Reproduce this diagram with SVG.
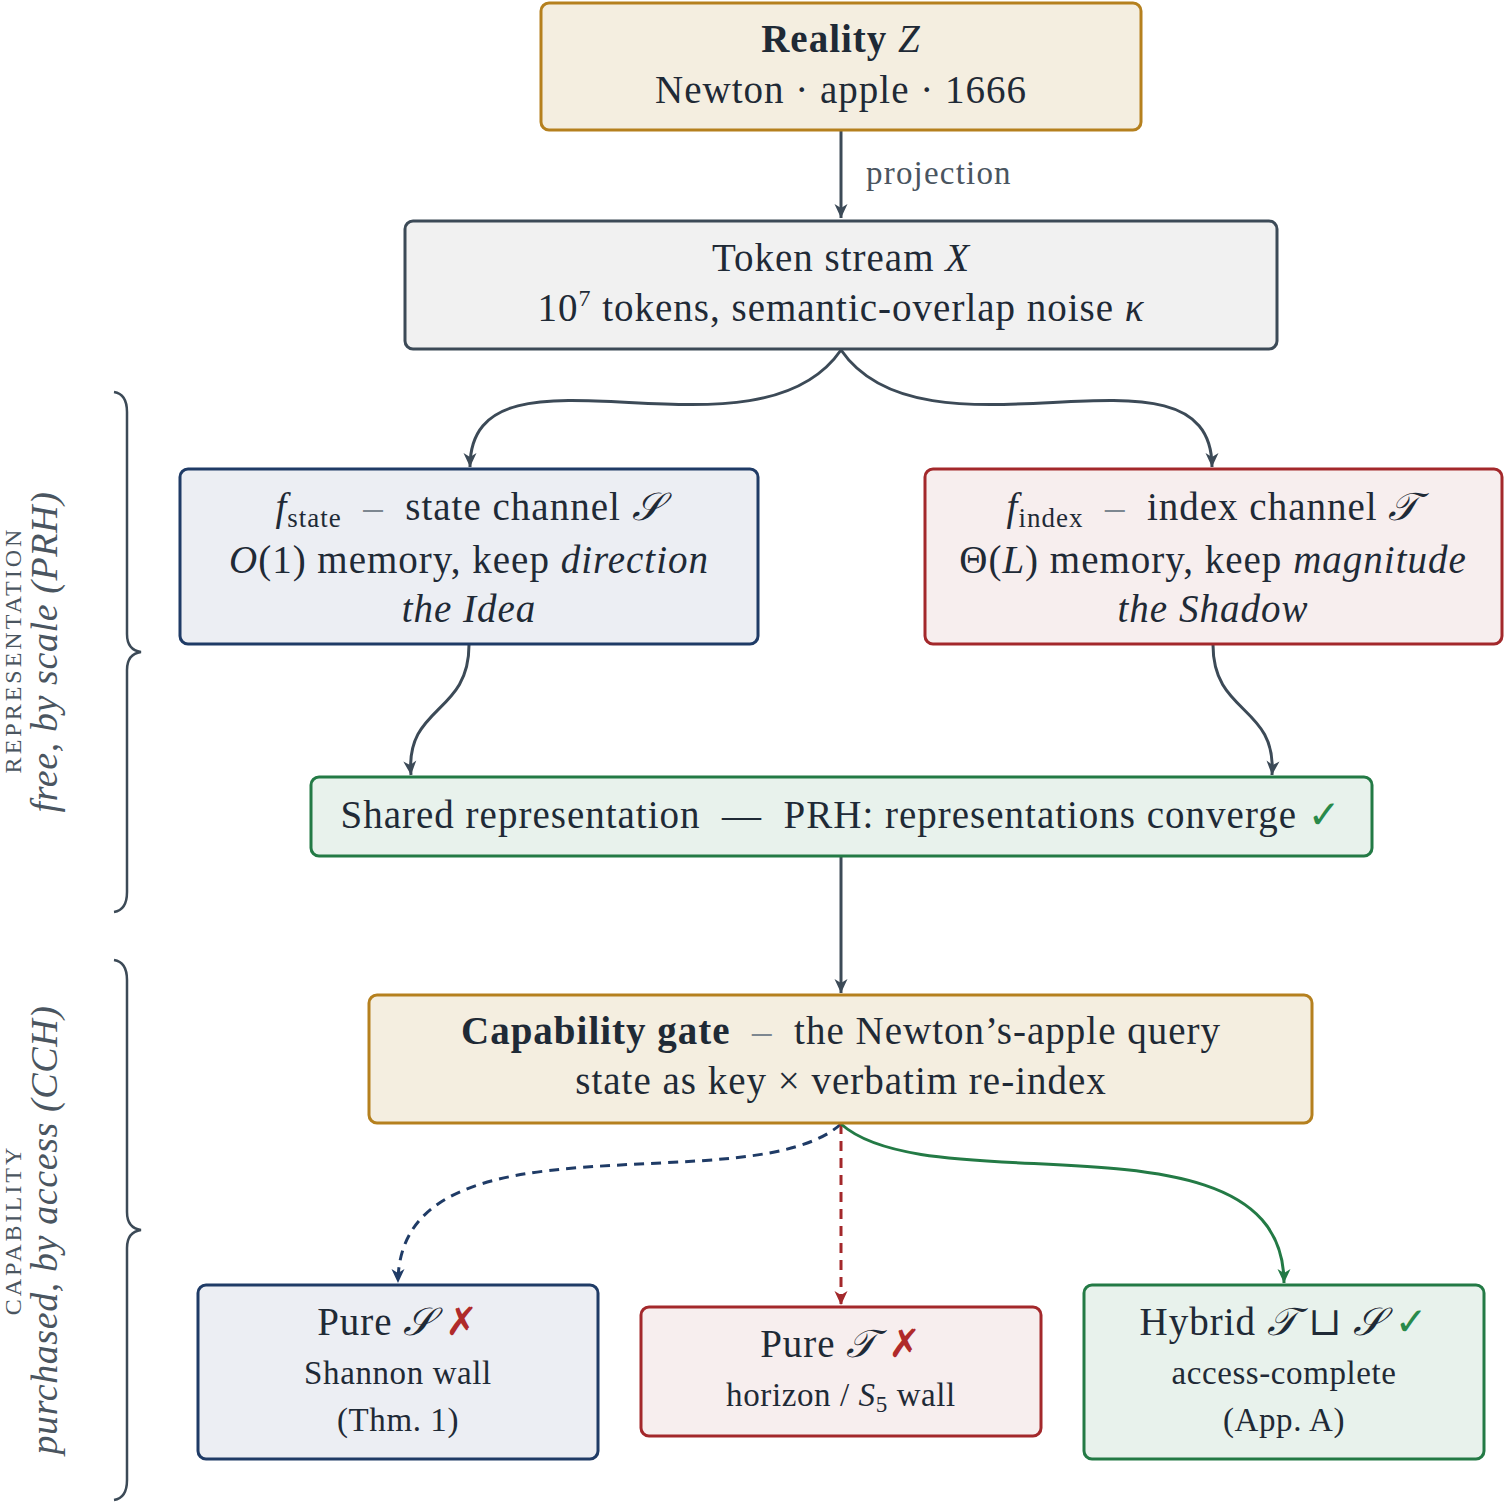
<svg xmlns="http://www.w3.org/2000/svg" width="1504" height="1504" viewBox="0 0 1504 1504">
<defs>
<style>
.t{font-family:"Liberation Serif","DejaVu Serif",serif;fill:#1f2a36;font-size:39px;letter-spacing:1px;text-anchor:middle;white-space:pre}
.s2{font-size:33px;letter-spacing:0.6px}
.b{font-weight:bold}
.i{font-style:italic}
.m{font-family:"DejaVu Serif","DejaVu Sans",serif;font-style:italic}
.dsh{fill:#7d8790}
.x{fill:#b02a2a;font-family:"DejaVu Sans",sans-serif}
.ok{fill:#2a8a4a;font-family:"DejaVu Sans",sans-serif}
.box{stroke-width:3}
.gold{fill:#f4eee0;stroke:#b5801e}
.gray{fill:#f1f1f1;stroke:#3c4a57}
.navy{fill:#eceef3;stroke:#1f3b66}
.red{fill:#f7eeee;stroke:#a3282b}
.green{fill:#e8f2ec;stroke:#237a45}
.c{fill:none;stroke-width:3}
.side{font-family:"Liberation Serif","DejaVu Serif",serif;fill:#4a5560;text-anchor:middle}
</style>
<marker id="aS" viewBox="-15 -8 16 16" refX="0" refY="0" markerWidth="16" markerHeight="16" orient="auto" markerUnits="userSpaceOnUse"><path d="M0,0 L-14,-6.5 L-10,0 L-14,6.5 Z" fill="#3c4a57"/></marker>
<marker id="aN" viewBox="-15 -8 16 16" refX="0" refY="0" markerWidth="16" markerHeight="16" orient="auto" markerUnits="userSpaceOnUse"><path d="M0,0 L-14,-6.5 L-10,0 L-14,6.5 Z" fill="#1f3b66"/></marker>
<marker id="aR" viewBox="-15 -8 16 16" refX="0" refY="0" markerWidth="16" markerHeight="16" orient="auto" markerUnits="userSpaceOnUse"><path d="M0,0 L-14,-6.5 L-10,0 L-14,6.5 Z" fill="#a3282b"/></marker>
<marker id="aG" viewBox="-15 -8 16 16" refX="0" refY="0" markerWidth="16" markerHeight="16" orient="auto" markerUnits="userSpaceOnUse"><path d="M0,0 L-14,-6.5 L-10,0 L-14,6.5 Z" fill="#237a45"/></marker>
</defs>
<rect width="1504" height="1504" fill="#ffffff"/>

<g id="connectors">
<path class="c" stroke="#3c4a57" d="M841,131 L841,218" marker-end="url(#aS)"/>
<text class="side" x="866" y="184" font-size="33" letter-spacing="1.2" style="text-anchor:start">projection</text>
<path class="c" stroke="#3c4a57" d="M841,350 C755,475 470,325 470,467" marker-end="url(#aS)"/>
<path class="c" stroke="#3c4a57" d="M841,350 C927,475 1212,325 1212,467" marker-end="url(#aS)"/>
<path class="c" stroke="#3c4a57" d="M469,645 C469,715 405,705 411,775" marker-end="url(#aS)"/>
<path class="c" stroke="#3c4a57" d="M1213,645 C1213,715 1277,705 1272,775" marker-end="url(#aS)"/>
<path class="c" stroke="#3c4a57" d="M841,857 L841,993" marker-end="url(#aS)"/>
<path class="c" stroke="#1f3b66" stroke-dasharray="10 7" d="M841,1124 C750,1205 398,1105 398,1283" marker-end="url(#aN)"/>
<path class="c" stroke="#a3282b" stroke-dasharray="10 7" d="M841,1124 L841,1305" marker-end="url(#aR)"/>
<path class="c" stroke="#237a45" d="M841,1124 C932,1205 1284,1105 1284,1283" marker-end="url(#aG)"/>
</g>

<g id="brace-representation">
<path fill="none" stroke="#3c4a57" stroke-width="2.5" d="M114,392 Q127,394 127,412 L127,634 Q127,650 141,652 Q127,654 127,670 L127,892 Q127,910 114,912"/>
<text class="side" transform="translate(21,650) rotate(-90)" font-size="24" letter-spacing="3">REPRESENTATION</text>
<text class="side i" transform="translate(57,652) rotate(-90)" font-size="38" letter-spacing="0.6">free, by scale (PRH)</text>
</g>
<g id="brace-capability">
<path fill="none" stroke="#3c4a57" stroke-width="2.5" d="M114,960 Q127,962 127,980 L127,1212 Q127,1228 141,1230 Q127,1232 127,1248 L127,1480 Q127,1498 114,1500"/>
<text class="side" transform="translate(21,1230) rotate(-90)" font-size="24" letter-spacing="3">CAPABILITY</text>
<text class="side i" transform="translate(57,1230) rotate(-90)" font-size="38" letter-spacing="0.6">purchased, by access (CCH)</text>
</g>

<g id="reality">
<rect class="box gold" x="541" y="3" width="600" height="127" rx="8"/>
<text class="t" x="841" y="52"><tspan class="b">Reality</tspan> <tspan class="i">Z</tspan></text>
<text class="t" x="841" y="103">Newton · apple · 1666</text>
</g>

<g id="token-stream">
<rect class="box gray" x="405" y="221" width="872" height="128" rx="8"/>
<text class="t" x="841" y="271">Token stream <tspan class="i">X</tspan></text>
<text class="t" x="841" y="321">10<tspan font-size="24" dy="-15">7</tspan><tspan dy="15"> tokens, semantic-overlap noise </tspan><tspan class="i">κ</tspan></text>
</g>

<g id="f-state">
<rect class="box navy" x="180" y="469" width="578" height="175" rx="8"/>
<text class="t" x="469" y="520"><tspan class="i">f</tspan><tspan font-size="27" dy="7">state</tspan><tspan dy="-7" class="dsh">  –  </tspan>state channel <tspan class="m">𝒮</tspan></text>
<text class="t" x="469" y="573"><tspan class="i">O</tspan>(1) memory, keep <tspan class="i">direction</tspan></text>
<text class="t i" x="469" y="622">the Idea</text>
</g>

<g id="f-index">
<rect class="box red" x="925" y="469" width="577" height="175" rx="8"/>
<text class="t" x="1213" y="520"><tspan class="i">f</tspan><tspan font-size="27" dy="7">index</tspan><tspan dy="-7" class="dsh">  –  </tspan>index channel <tspan class="m">𝒯</tspan></text>
<text class="t" x="1213" y="573">Θ(<tspan class="i">L</tspan>) memory, keep <tspan class="i">magnitude</tspan></text>
<text class="t i" x="1213" y="622">the Shadow</text>
</g>

<g id="shared">
<rect class="box green" x="311" y="777" width="1061" height="79" rx="8"/>
<text class="t" x="841" y="828">Shared representation  —  PRH: representations converge <tspan class="ok">✓</tspan></text>
</g>

<g id="capability-gate">
<rect class="box gold" x="369" y="995" width="943" height="128" rx="8"/>
<text class="t" x="841" y="1044"><tspan class="b">Capability gate</tspan><tspan class="dsh">  –  </tspan>the Newton’s-apple query</text>
<text class="t" x="841" y="1094">state as key × verbatim re-index</text>
</g>

<g id="pure-s">
<rect class="box navy" x="198" y="1285" width="400" height="174" rx="8"/>
<text class="t" x="398" y="1335">Pure <tspan class="m">𝒮</tspan> <tspan class="x">✗</tspan></text>
<text class="t s2" x="398" y="1384">Shannon wall</text>
<text class="t s2" x="398" y="1431">(Thm. 1)</text>
</g>

<g id="pure-t">
<rect class="box red" x="641" y="1307" width="400" height="129" rx="8"/>
<text class="t" x="841" y="1357">Pure <tspan class="m">𝒯</tspan> <tspan class="x">✗</tspan></text>
<text class="t s2" x="841" y="1406">horizon / <tspan class="i">S</tspan><tspan font-size="23" dy="6">5</tspan><tspan dy="-6"> wall</tspan></text>
</g>

<g id="hybrid">
<rect class="box green" x="1084" y="1285" width="400" height="174" rx="8"/>
<text class="t" x="1284" y="1335">Hybrid <tspan class="m">𝒯</tspan> ⊔ <tspan class="m">𝒮</tspan> <tspan class="ok">✓</tspan></text>
<text class="t s2" x="1284" y="1384">access-complete</text>
<text class="t s2" x="1284" y="1431">(App. A)</text>
</g>
</svg>
